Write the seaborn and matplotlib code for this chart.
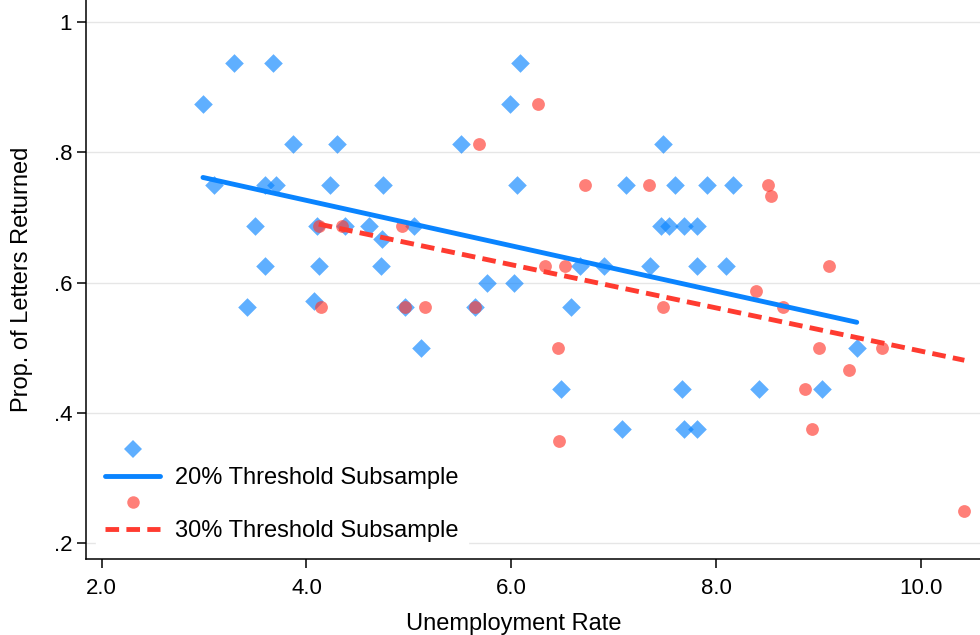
import seaborn as sns
import pandas as pd
import numpy as np
import matplotlib.pyplot as plt
from matplotlib.lines import Line2D

# 20% threshold subsample (unemployment rate, share of letters returned)
rate_20 = [3.29, 3.67, 2.99, 3.87, 4.30, 3.10, 3.60, 3.70, 4.23, 4.75,
           3.50, 4.10, 4.38, 4.61, 4.74, 3.60, 4.12, 4.73, 4.07, 3.42,
           6.08, 5.99, 5.51, 6.05, 7.12, 7.60, 5.05, 7.48, 7.46, 7.54,
           7.68, 7.81, 6.67, 6.90, 7.35, 5.76, 6.03, 7.91, 8.16, 7.81,
           8.09, 4.96, 5.64, 6.58, 5.12, 6.48, 7.66, 7.08, 7.68, 7.81,
           9.37, 8.42, 9.03]
prop_20 = [.9375, .9375, .875, .8125, .8125, .75, .75, .75, .75, .75,
           .6875, .6875, .6875, .6875, .667, .625, .625, .625, .5714, .5625,
           .9375, .875, .8125, .75, .75, .75, .6875, .8125, .6875, .6875,
           .6875, .6875, .625, .625, .625, .6, .6, .75, .75, .625,
           .625, .5625, .5625, .5625, .5, .4375, .4375, .375, .375, .375,
           .5, .4375, .4375]

# 30% threshold subsample
rate_30 = [4.12, 4.35, 4.14, 6.26, 5.68, 6.72, 7.34, 4.93, 6.33, 6.52,
           8.50, 8.53, 9.10, 8.39, 4.96, 5.16, 5.64, 7.48, 6.45, 6.46,
           8.65, 9.00, 9.62, 9.29, 8.87, 8.93, 10.42]
prop_30 = [.6875, .6875, .5625, .875, .8125, .75, .75, .6875, .625, .625,
           .75, .733, .625, .588, .5625, .5625, .5625, .5625, .5, .357,
           .5625, .5, .5, .4667, .4375, .375, .25]

x_ticks = [2, 4, 6, 8, 10]
x_tick_labels = ['2.0', '4.0', '6.0', '8.0', '10.0']
y_ticks = [.2, .4, .6, .8, 1]
y_tick_labels = ['.2', '.4', '.6', '.8', '1']

df_20 = pd.DataFrame({'rate': rate_20, 'prop': prop_20})
df_30 = pd.DataFrame({'rate': rate_30, 'prop': prop_30})

blue = '#0A84FF'
red = '#FF3B30'
tick_fs = 16
label_fs = 17
dash = (0, (2.8, 1.5))

sns.set_style('white')
plt.rcParams['font.family'] = ['Liberation Sans', 'DejaVu Sans']
for key in ['text.color', 'axes.labelcolor', 'xtick.color', 'ytick.color']:
    plt.rcParams[key] = 'black'

fig = plt.figure(figsize=(9.8, 6.35), dpi=100)
ax = fig.add_axes([0.0878, 0.1197, 0.912, 0.8803])

ax.yaxis.grid(True, color='#E6E6E6', linewidth=1)
ax.set_axisbelow(True)

sns.scatterplot(data=df_20, x='rate', y='prop', marker='D', s=90, color=blue,
                alpha=0.65, linewidth=0, ax=ax, zorder=2)
sns.scatterplot(data=df_30, x='rate', y='prop', marker='o', s=85, color=red,
                alpha=0.65, linewidth=0, ax=ax, zorder=2)

# linear fits, drawn over the data range like Stata's lfit
sns.regplot(data=df_20, x='rate', y='prop', scatter=False, ci=None, ax=ax,
            line_kws=dict(color=blue, linewidth=3.5, zorder=3))
sns.regplot(data=df_30, x='rate', y='prop', scatter=False, ci=None, ax=ax,
            line_kws=dict(color=red, linewidth=3.5, zorder=3,
                          linestyle=dash, dash_capstyle='butt'))

ax.set_xlim(1.849, 10.571)
ax.set_ylim(0.176, 1.034)
ax.set_xticks(x_ticks)
ax.set_xticklabels(x_tick_labels)
ax.set_yticks(y_ticks)
ax.set_yticklabels(y_tick_labels)
ax.tick_params(axis='both', direction='out', length=6.5, width=1.1,
               labelsize=tick_fs, color='black', pad=3.5, left=True, bottom=True)
ax.tick_params(axis='x', pad=7)

for side in ['top', 'right']:
    ax.spines[side].set_visible(False)
for side in ['left', 'bottom']:
    ax.spines[side].set_color('black')
    ax.spines[side].set_linewidth(1.1)

ax.set_xlabel('Unemployment Rate', fontsize=label_fs, labelpad=11)
ax.set_ylabel('Prop. of Letters Returned', fontsize=label_fs, labelpad=15)
ax.xaxis.set_label_coords(0.478, -0.096)

handles = [
    Line2D([], [], marker='D', markersize=9, color=blue, alpha=0.65, linestyle='none', markeredgewidth=0),
    Line2D([], [], color=blue, linewidth=3.5),
    Line2D([], [], marker='o', markersize=9, color=red, alpha=0.65, linestyle='none', markeredgewidth=0),
    Line2D([], [], color=red, linewidth=3.5, linestyle=dash, dash_capstyle='butt'),
]
labels = [' ', '20% Threshold Subsample', ' ', '30% Threshold Subsample']
leg = ax.legend(handles, labels, loc='lower left', bbox_to_anchor=(0.011, 0.013),
                borderaxespad=0, fontsize=label_fs, frameon=True, fancybox=False,
                framealpha=1, edgecolor='white', facecolor='white',
                handlelength=2.33, handletextpad=0.63, labelspacing=0.2,
                borderpad=0.4)

plt.savefig('out.png', dpi=100)
